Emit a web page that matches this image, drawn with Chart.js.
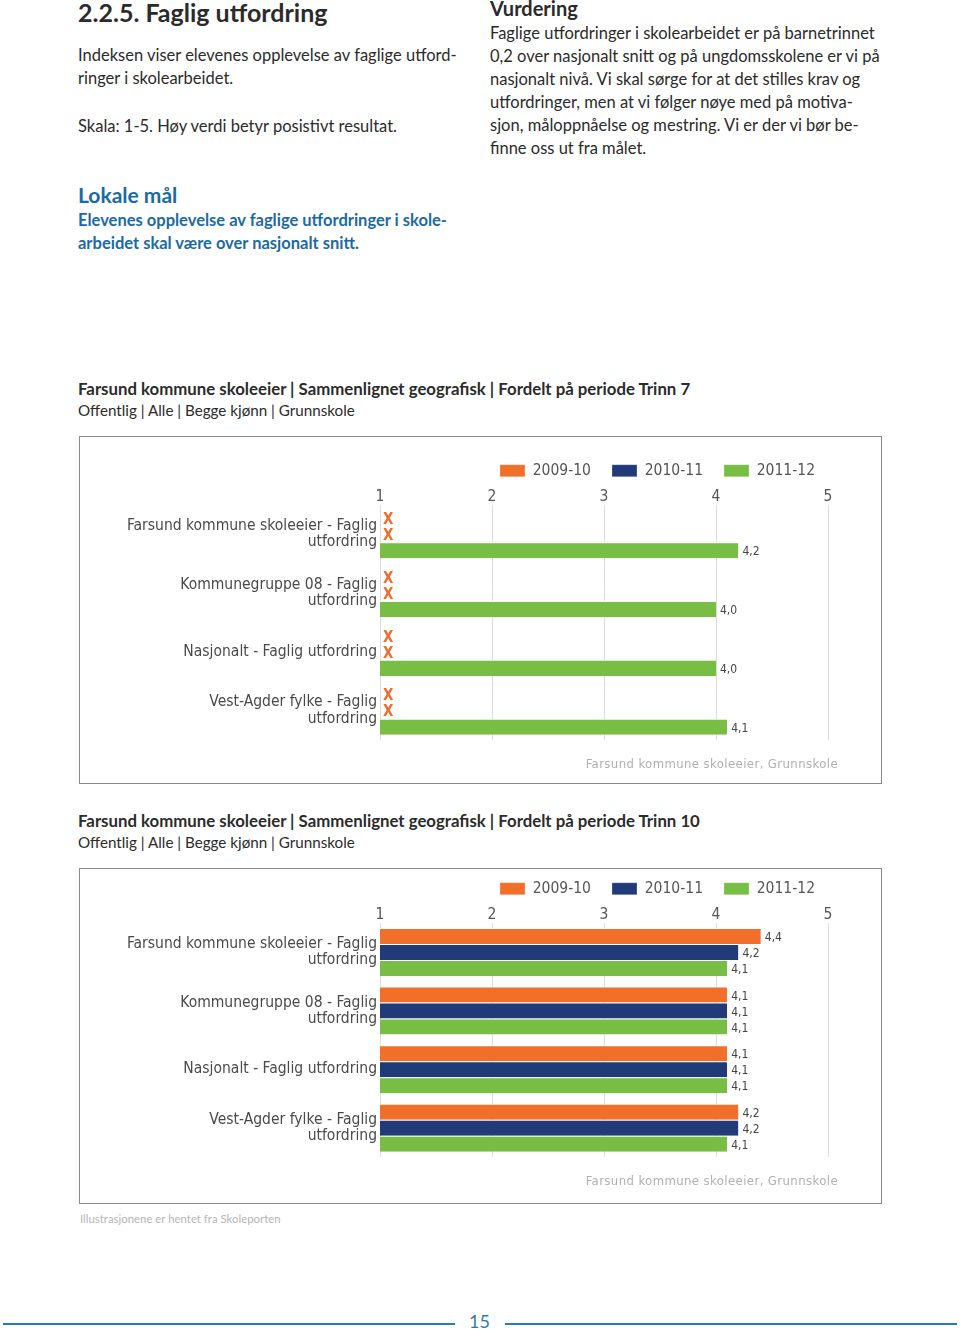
<!DOCTYPE html>
<html>
<head>
<meta charset="utf-8">
<script src="https://cdn.jsdelivr.net/npm/chart.js@4"></script>
<style>
  body { margin: 0; background: #fff; font-family: Lato, "Open Sans", sans-serif; color: #2b2b2b; }
  .page { position: relative; width: 960px; height: 1330px; overflow: hidden; }
  .t { position: absolute; white-space: pre; }
  .body { font-size: 16.5px; line-height: 23px; }
  .blue { color: #1b6aa3; }
  .box { position: absolute; left: 79px; width: 801px; border: 1px solid #8a8a8a; }
  canvas { position: absolute; left: 0; top: -10px; }
  .src { position: absolute; right: 43px; font-family: "DejaVu Sans Condensed", sans-serif; font-size: 13px; letter-spacing: 0.4px; color: #b0b0b0; }
  .rule { position: absolute; top: 1323px; height: 2px; background: #2b7bb4; }
</style>
</head>
<body>
<div class="page">
  <div class="t" style="left:78px;top:-3px;font-size:25px;font-weight:bold;">2.2.5. Faglig utfordring</div>
  <div class="t body" style="left:78px;top:44px;">Indeksen viser elevenes opplevelse av faglige utford-
ringer i skolearbeidet.</div>
  <div class="t body" style="left:78px;top:115px;">Skala: 1-5. Høy verdi betyr posistivt resultat.</div>
  <div class="t blue" style="left:78px;top:182px;font-size:21px;font-weight:bold;">Lokale mål</div>
  <div class="t body blue" style="left:78px;top:209px;font-weight:bold;">Elevenes opplevelse av faglige utfordringer i skole-
arbeidet skal være over nasjonalt snitt.</div>

  <div class="t" style="left:490px;top:-4px;font-size:20px;font-weight:bold;">Vurdering</div>
  <div class="t body" style="left:490px;top:22px;">Faglige utfordringer i skolearbeidet er på barnetrinnet
0,2 over nasjonalt snitt og på ungdomsskolene er vi på
nasjonalt nivå. Vi skal sørge for at det stilles krav og
utfordringer, men at vi følger nøye med på motiva-
sjon, måloppnåelse og mestring. Vi er der vi bør be-
finne oss ut fra målet.</div>

  <div class="t" style="left:78px;top:378px;font-size:16.8px;font-weight:bold;">Farsund kommune skoleeier | Sammenlignet geografisk | Fordelt på periode Trinn 7</div>
  <div class="t" style="left:78px;top:401px;font-size:15.2px;">Offentlig | Alle | Begge kjønn | Grunnskole</div>
  <div class="box" style="top:436px;height:346px;">
    <canvas id="chart7" width="800" height="346"></canvas>
    <div class="src" style="top:319px;">Farsund kommune skoleeier, Grunnskole</div>
  </div>

  <div class="t" style="left:78px;top:810px;font-size:16.8px;font-weight:bold;">Farsund kommune skoleeier | Sammenlignet geografisk | Fordelt på periode Trinn 10</div>
  <div class="t" style="left:78px;top:833px;font-size:15.2px;">Offentlig | Alle | Begge kjønn | Grunnskole</div>
  <div class="box" style="top:868px;height:334px;">
    <canvas id="chart10" width="800" height="334"></canvas>
    <div class="src" style="top:304px;">Farsund kommune skoleeier, Grunnskole</div>
  </div>

  <div class="t" style="left:80px;top:1212px;font-size:11.4px;color:#b5b5b5;">Illustrasjonene er hentet fra Skoleporten</div>

  <div class="rule" style="left:3px;width:452px;"></div>
  <div class="t" style="left:469px;top:1310px;font-size:18px;color:#2b7bb4;">15</div>
  <div class="rule" style="left:505px;width:452px;"></div>
</div>

<script>
// categories and tick labels
const units = [
  ["Farsund kommune skoleeier - Faglig", "utfordring"],
  ["Kommunegruppe 08 - Faglig", "utfordring"],
  "Nasjonalt - Faglig utfordring",
  ["Vest-Agder fylke - Faglig", "utfordring"]
];
const periods = ["2009-10", "2010-11", "2011-12"];
const periodColors = ["#f26f2a", "#213b79", "#78bd44"];
const scaleTicks = [1, 2, 3, 4, 5];

// Trinn 7 (null = no data, drawn as X)
const t7_2009 = [null, null, null, null];
const t7_2010 = [null, null, null, null];
const t7_2011 = [4.2, 4.0, 4.0, 4.1];

// Trinn 10
const t10_2009 = [4.4, 4.1, 4.1, 4.2];
const t10_2010 = [4.2, 4.1, 4.1, 4.2];
const t10_2011 = [4.1, 4.1, 4.1, 4.1];

const tickFont = { family: "DejaVu Sans Condensed", size: 15.5, lineHeight: 1.05 };

// draws the value at the end of each bar, or an X when the value is missing
const valueLabels = {
  id: "valueLabels",
  afterDatasetsDraw(chart) {
    const ctx = chart.ctx;
    const xs = chart.scales.x;
    ctx.save();
    ctx.textBaseline = "middle";
    ctx.textAlign = "left";
    chart.data.datasets.forEach((ds, di) => {
      const meta = chart.getDatasetMeta(di);
      meta.data.forEach((bar, i) => {
        const v = ds.data[i];
        if (v === null) {
          ctx.fillStyle = "#ee6c2c";
          ctx.font = "bold 15px 'DejaVu Sans Condensed'";
          ctx.fillText("X", xs.getPixelForValue(1) + 3, bar.y + 2);
        } else {
          ctx.fillStyle = "#444";
          ctx.font = "12px 'DejaVu Sans Condensed'";
          ctx.fillText(v.toFixed(1).replace(".", ","), bar.x + 4, bar.y + 2);
        }
      });
    });
    ctx.restore();
  }
};

// nudge the legend a little past the plot's right edge, as in the original
const legendShift = {
  id: "legendShift",
  afterLayout(chart) {
    chart.legend.left += 8;
    chart.legend.right += 8;
  }
};

function makeChart(id, series, topPad, bottomPad) {
  new Chart(id, {
    type: "bar",
    data: {
      labels: units,
      datasets: periods.map((p, k) => ({
        label: p,
        data: series[k],
        backgroundColor: periodColors[k],
        borderColor: "#ffffff",
        borderWidth: { top: 1, bottom: 0, left: 0, right: 0 },
        borderSkipped: false,
        barPercentage: 1.0,
        categoryPercentage: 0.82
      }))
    },
    options: {
      indexAxis: "y",
      responsive: false,
      animation: false,
      devicePixelRatio: 1,
      layout: { padding: { top: topPad, right: 52, bottom: bottomPad, left: 0 } },
      plugins: {
        legend: {
          align: "end",
          labels: {
            boxWidth: 25,
            boxHeight: 12,
            padding: 21,
            color: "#555",
            font: tickFont
          }
        },
        tooltip: { enabled: false }
      },
      scales: {
        x: {
          position: "top",
          min: 1,
          max: 5,
          afterBuildTicks: (s) => { s.ticks = scaleTicks.map(v => ({ value: v })); },
          ticks: { color: "#555", font: tickFont, padding: 0 },
          grid: { color: "#dcdcdc", drawTicks: false },
          border: { display: false }
        },
        y: {
          afterFit: (s) => { s.width = 300; },
          ticks: { color: "#4a4a4a", font: tickFont, padding: 3 },
          grid: { display: false, drawTicks: false },
          border: { display: false }
        }
      }
    },
    plugins: [valueLabels, legendShift]
  });
}

makeChart("chart7", [t7_2009, t7_2010, t7_2011], 15, 33);
makeChart("chart10", [t10_2009, t10_2010, t10_2011], 1, 36);
</script>
</body>
</html>
